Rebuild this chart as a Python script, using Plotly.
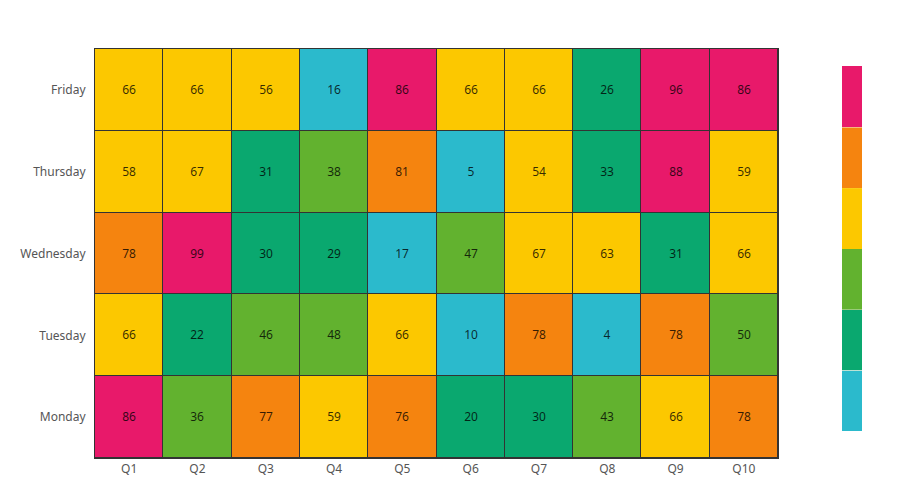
import plotly.graph_objects as go

days = ["Monday", "Tuesday", "Wednesday", "Thursday", "Friday"]
quarters = ["Q1", "Q2", "Q3", "Q4", "Q5", "Q6", "Q7", "Q8", "Q9", "Q10"]
monday = [86, 36, 77, 59, 76, 20, 30, 43, 66, 78]
tuesday = [66, 22, 46, 48, 66, 10, 78, 4, 78, 50]
wednesday = [78, 99, 30, 29, 17, 47, 67, 63, 31, 66]
thursday = [58, 67, 31, 38, 81, 5, 54, 33, 88, 59]
friday = [66, 66, 56, 16, 86, 66, 66, 26, 96, 86]
bin_colors = ["#2bbacc", "#0aa86f", "#62b22f", "#fcc800", "#f5840f", "#e8196a"]

z = [monday, tuesday, wednesday, thursday, friday]
zmin = min(min(r) for r in z)
zmax = max(max(r) for r in z)

n = len(bin_colors)
gap = 0.0012
colorscale = []
for i, c in enumerate(bin_colors):
    a = i / n
    b = (i + 1) / n
    if i > 0:
        colorscale.append([a - gap, "#f4f4f4"])
        colorscale.append([a, c])
    else:
        colorscale.append([a, c])
    if i < n - 1:
        colorscale.append([b - 2 * gap, c])
    else:
        colorscale.append([b, c])

fig = go.Figure(go.Heatmap(
    z=z, x=quarters, y=days,
    zmin=zmin, zmax=zmax,
    colorscale=colorscale,
    xgap=1, ygap=1,
    texttemplate="%{z}",
    textfont=dict(size=12, color="rgba(0,0,0,0.78)"),
    hoverinfo="x+y+z",
    colorbar=dict(
        thickness=20, thicknessmode="pixels",
        len=365, lenmode="pixels",
        x=1.0937, xanchor="left", xpad=0,
        y=0.512, yanchor="middle", ypad=0,
        outlinewidth=0, showticklabels=False, ticks="",
    ),
))

fig.update_layout(
    width=898, height=498,
    margin=dict(l=95, r=120, t=49, b=40),
    paper_bgcolor="white",
    plot_bgcolor="#333333",
    font=dict(family="Noto Sans, Open Sans, sans-serif", size=12, color="#555555"),
    showlegend=False,
)
fig.update_xaxes(showgrid=False, zeroline=False, showline=True, linecolor="#333333",
                 linewidth=1, mirror=True, ticks="", tickfont=dict(size=12, color="#555555"))
fig.update_yaxes(showgrid=False, zeroline=False, showline=True, linecolor="#333333",
                 linewidth=1, mirror=True, ticks="", tickfont=dict(size=12, color="#555555"),
                 ticklabelstandoff=6)

fig.write_html("out.html")
